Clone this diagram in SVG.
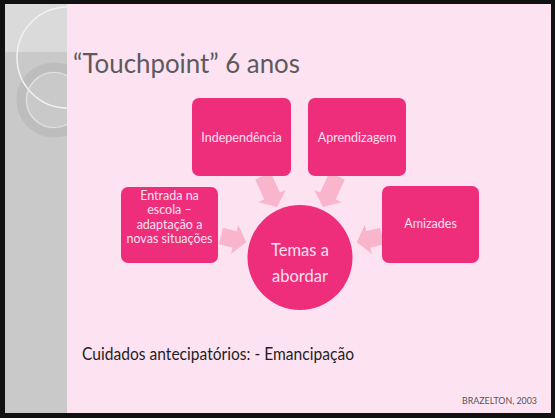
<svg xmlns="http://www.w3.org/2000/svg" width="555" height="418" viewBox="0 0 555 418">
<defs>
<style>
.box{fill:#ee2d7b}
.arr{fill:#f8b5cc}
.bt{font-family:Lato,"Open Sans",sans-serif;font-size:12.5px;fill:#fde0ee;text-anchor:middle}
.ct{font-family:Lato,"Open Sans",sans-serif;font-size:16.5px;fill:#fde0ee;text-anchor:middle}
</style>
</defs>
<rect x="0" y="0" width="555" height="418" fill="#111"/>
<rect x="5" y="4" width="546" height="409" fill="#fde3f1"/>
<g id="sidepanel">
<rect x="5" y="4" width="62" height="409" fill="#c9c9c9"/>
<rect x="5" y="4" width="62" height="48" fill="#dadada"/>
<clipPath id="pc"><rect x="5" y="4" width="62" height="409"/></clipPath>
<g clip-path="url(#pc)">
<circle cx="54" cy="100" r="33" fill="none" stroke="#bdbdbd" stroke-width="9"/>
<circle cx="54" cy="100" r="27.5" fill="none" stroke="#e2e2e2" stroke-width="1.2"/>
<circle cx="67.5" cy="57.5" r="50.5" fill="none" stroke="#f2f2f2" stroke-width="1.5"/>
</g>
</g>
<text id="title" x="73" y="73" font-family="Lato,'Open Sans',sans-serif" font-size="27" fill="#5e595d" textLength="227" lengthAdjust="spacingAndGlyphs">“Touchpoint” 6 anos</text>
<g id="connectors">
<polygon class="arr" transform="translate(221,236) rotate(14)" points="0,-8.5 14,-8.5 14,-15 26,0 14,15 14,8.5 0,8.5"/>
<polygon class="arr" transform="translate(382,236) rotate(166)" points="0,-8.5 14,-8.5 14,-15 26,0 14,15 14,8.5 0,8.5"/>
<polygon class="arr" transform="translate(263,176) rotate(65.7)" points="0,-8.5 22,-8.5 22,-15 34,0 22,15 22,8.5 0,8.5"/>
<polygon class="arr" transform="translate(337,176) rotate(114.3)" points="0,-8.5 22,-8.5 22,-15 34,0 22,15 22,8.5 0,8.5"/>
</g>
<g id="node-independencia">
<rect class="box" x="192" y="98" width="99" height="78" rx="7"/>
<text class="bt" x="241.5" y="142">Independência</text>
</g>
<g id="node-aprendizagem">
<rect class="box" x="308" y="98" width="98" height="78" rx="7"/>
<text class="bt" x="357" y="142">Aprendizagem</text>
</g>
<g id="node-entrada">
<rect class="box" x="121" y="187" width="97" height="76" rx="7"/>
<text class="bt" x="169.5" y="199.5">Entrada na</text>
<text class="bt" x="169.5" y="214">escola –</text>
<text class="bt" x="169.5" y="228.5">adaptação a</text>
<text class="bt" x="169.5" y="243">novas situações</text>
</g>
<g id="node-amizades">
<rect class="box" x="382" y="186" width="97" height="77" rx="7"/>
<text class="bt" x="430.5" y="228">Amizades</text>
</g>
<g id="node-temas">
<circle class="box" cx="300" cy="257.5" r="52.5"/>
<text class="ct" x="300" y="256">Temas a</text>
<text class="ct" x="300" y="282">abordar</text>
</g>
<text x="82" y="360" font-family="Lato,'Open Sans',sans-serif" font-size="16.5" fill="#1e1e1e" textLength="272" lengthAdjust="spacingAndGlyphs">Cuidados antecipatórios: - Emancipação</text>
<text x="462" y="404" font-family="Lato,'Open Sans',sans-serif" font-size="9.5" fill="#555" textLength="75" lengthAdjust="spacingAndGlyphs">BRAZELTON, 2003</text>
</svg>
